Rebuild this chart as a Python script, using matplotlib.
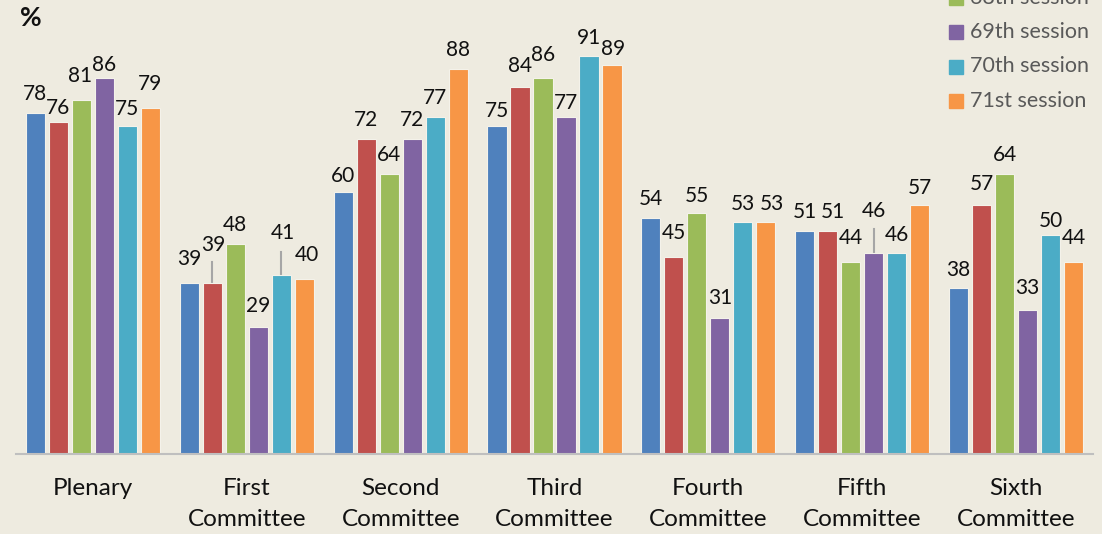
import matplotlib
matplotlib.use("Agg")
import matplotlib.pyplot as plt
from matplotlib.patches import Rectangle
import numpy as np

categories = ["Plenary", "First\nCommittee", "Second\nCommittee", "Third\nCommittee",
              "Fourth\nCommittee", "Fifth\nCommittee", "Sixth\nCommittee"]
sessions = ["66th session", "67th session", "68th session", "69th session",
            "70th session", "71st session"]
s66 = [78, 39, 60, 75, 54, 51, 38]
s67 = [76, 39, 72, 84, 45, 51, 57]
s68 = [81, 48, 64, 86, 55, 44, 64]
s69 = [86, 29, 72, 77, 31, 46, 33]
s70 = [75, 41, 77, 91, 53, 46, 50]
s71 = [79, 40, 88, 89, 53, 57, 44]
series = [s66, s67, s68, s69, s70, s71]

colors = ["#4F81BD", "#C0504D", "#9BBB59", "#8064A2", "#4BACC6", "#F79646"]
bg = "#EEEBE0"
font = "Lato"

W, H = 1102, 534
fig = plt.figure(figsize=(W / 100, H / 100), dpi=100, facecolor=bg)
ax = fig.add_axes([16 / W, (H - 454) / H, (1093 - 16) / W, 437.5 / H])
ax.set_facecolor(bg)

# label offsets in pixels (dx, dy above bar top) for labels moved in the original
default_dy = 19
label_adj = {
    (0, 0): (0, 19), (0, 1): (0, 14), (0, 2): (-1.5, 24), (0, 3): (0, 13),
    (0, 4): (0, 17), (0, 5): (0, 24),
    (1, 0): (0, 24), (1, 1): (1, 38), (1, 2): (0, 19), (1, 3): (0, 21),
    (1, 4): (2, 42), (1, 5): (3, 24),
    (2, 0): (0, 16),
    (3, 0): (0, 15), (3, 1): (0, 20), (3, 2): (0, 23), (3, 3): (0, 14),
    (3, 4): (0, 18), (3, 5): (1, 16),
    (4, 0): (0, 19), (4, 1): (0, 24), (4, 2): (0, 17), (4, 3): (0, 20),
    (4, 4): (0, 18), (4, 5): (6, 18),
    (5, 0): (0, 19), (5, 1): (5, 19), (5, 2): (0, 24), (5, 3): (0, 42),
    (5, 4): (0, 18), (5, 5): (0, 17),
    (6, 0): (0, 18), (6, 1): (0, 21), (6, 2): (0, 19), (6, 3): (0, 22),
    (6, 4): (0, 14), (6, 5): (0, 23),
}
leaders = {(1, 1): 21, (1, 4): 23, (5, 3): 24}

x = np.arange(len(categories))
step = 0.1495
width = 0.125
px_per_unit = 437.5 / 100
px_per_x = (1093 - 16) / 7.0

for i, vals in enumerate(series):
    xs = x + (i - 2.5) * step
    ax.bar(xs, vals, width=width, color=colors[i], edgecolor="#F4F2EA",
           linewidth=0.8, zorder=2)
    for g, (xx, v) in enumerate(zip(xs, vals)):
        dx, dy = label_adj.get((g, i), (0, default_dy))
        ax.text(xx + dx / px_per_x, v + dy / px_per_unit, str(v), ha="center",
                va="center", fontsize=15, family=font, color="#111111", zorder=3)
        if (g, i) in leaders:
            ax.plot([xx, xx], [v, v + leaders[(g, i)] / px_per_unit],
                    color="#A6A6A6", lw=1.5, zorder=1)

ax.set_xlim(-0.5, 6.5)
ax.set_ylim(0, 100)
for s in ["top", "right", "left"]:
    ax.spines[s].set_visible(False)
ax.spines["bottom"].set_color("#BFBFBF")
ax.spines["bottom"].set_linewidth(1.5)
ax.set_yticks([])
ax.set_xticks(x)
ax.set_xticklabels(categories, fontsize=17.5, family=font, color="#111111",
                   linespacing=1.6)
ax.tick_params(axis="x", length=0, pad=17)

fig.text(20 / W, 1 - 18 / H, "%", fontsize=19, fontweight="bold", family=font,
         va="center", ha="left", color="#111111")

# legend (top part cut off, as in the original)
for i, name in enumerate(sessions):
    yc = 101 - (5 - i) * 34.5
    fig.patches.append(Rectangle((949 / W, 1 - (yc + 7) / H), 14 / W, 14 / H,
                                 transform=fig.transFigure, color=colors[i],
                                 figure=fig))
    fig.text(970 / W, 1 - yc / H, name, fontsize=15.5, family=font,
             color="#595959", va="center", ha="left")

fig.savefig("out.png", dpi=100, facecolor=bg)
